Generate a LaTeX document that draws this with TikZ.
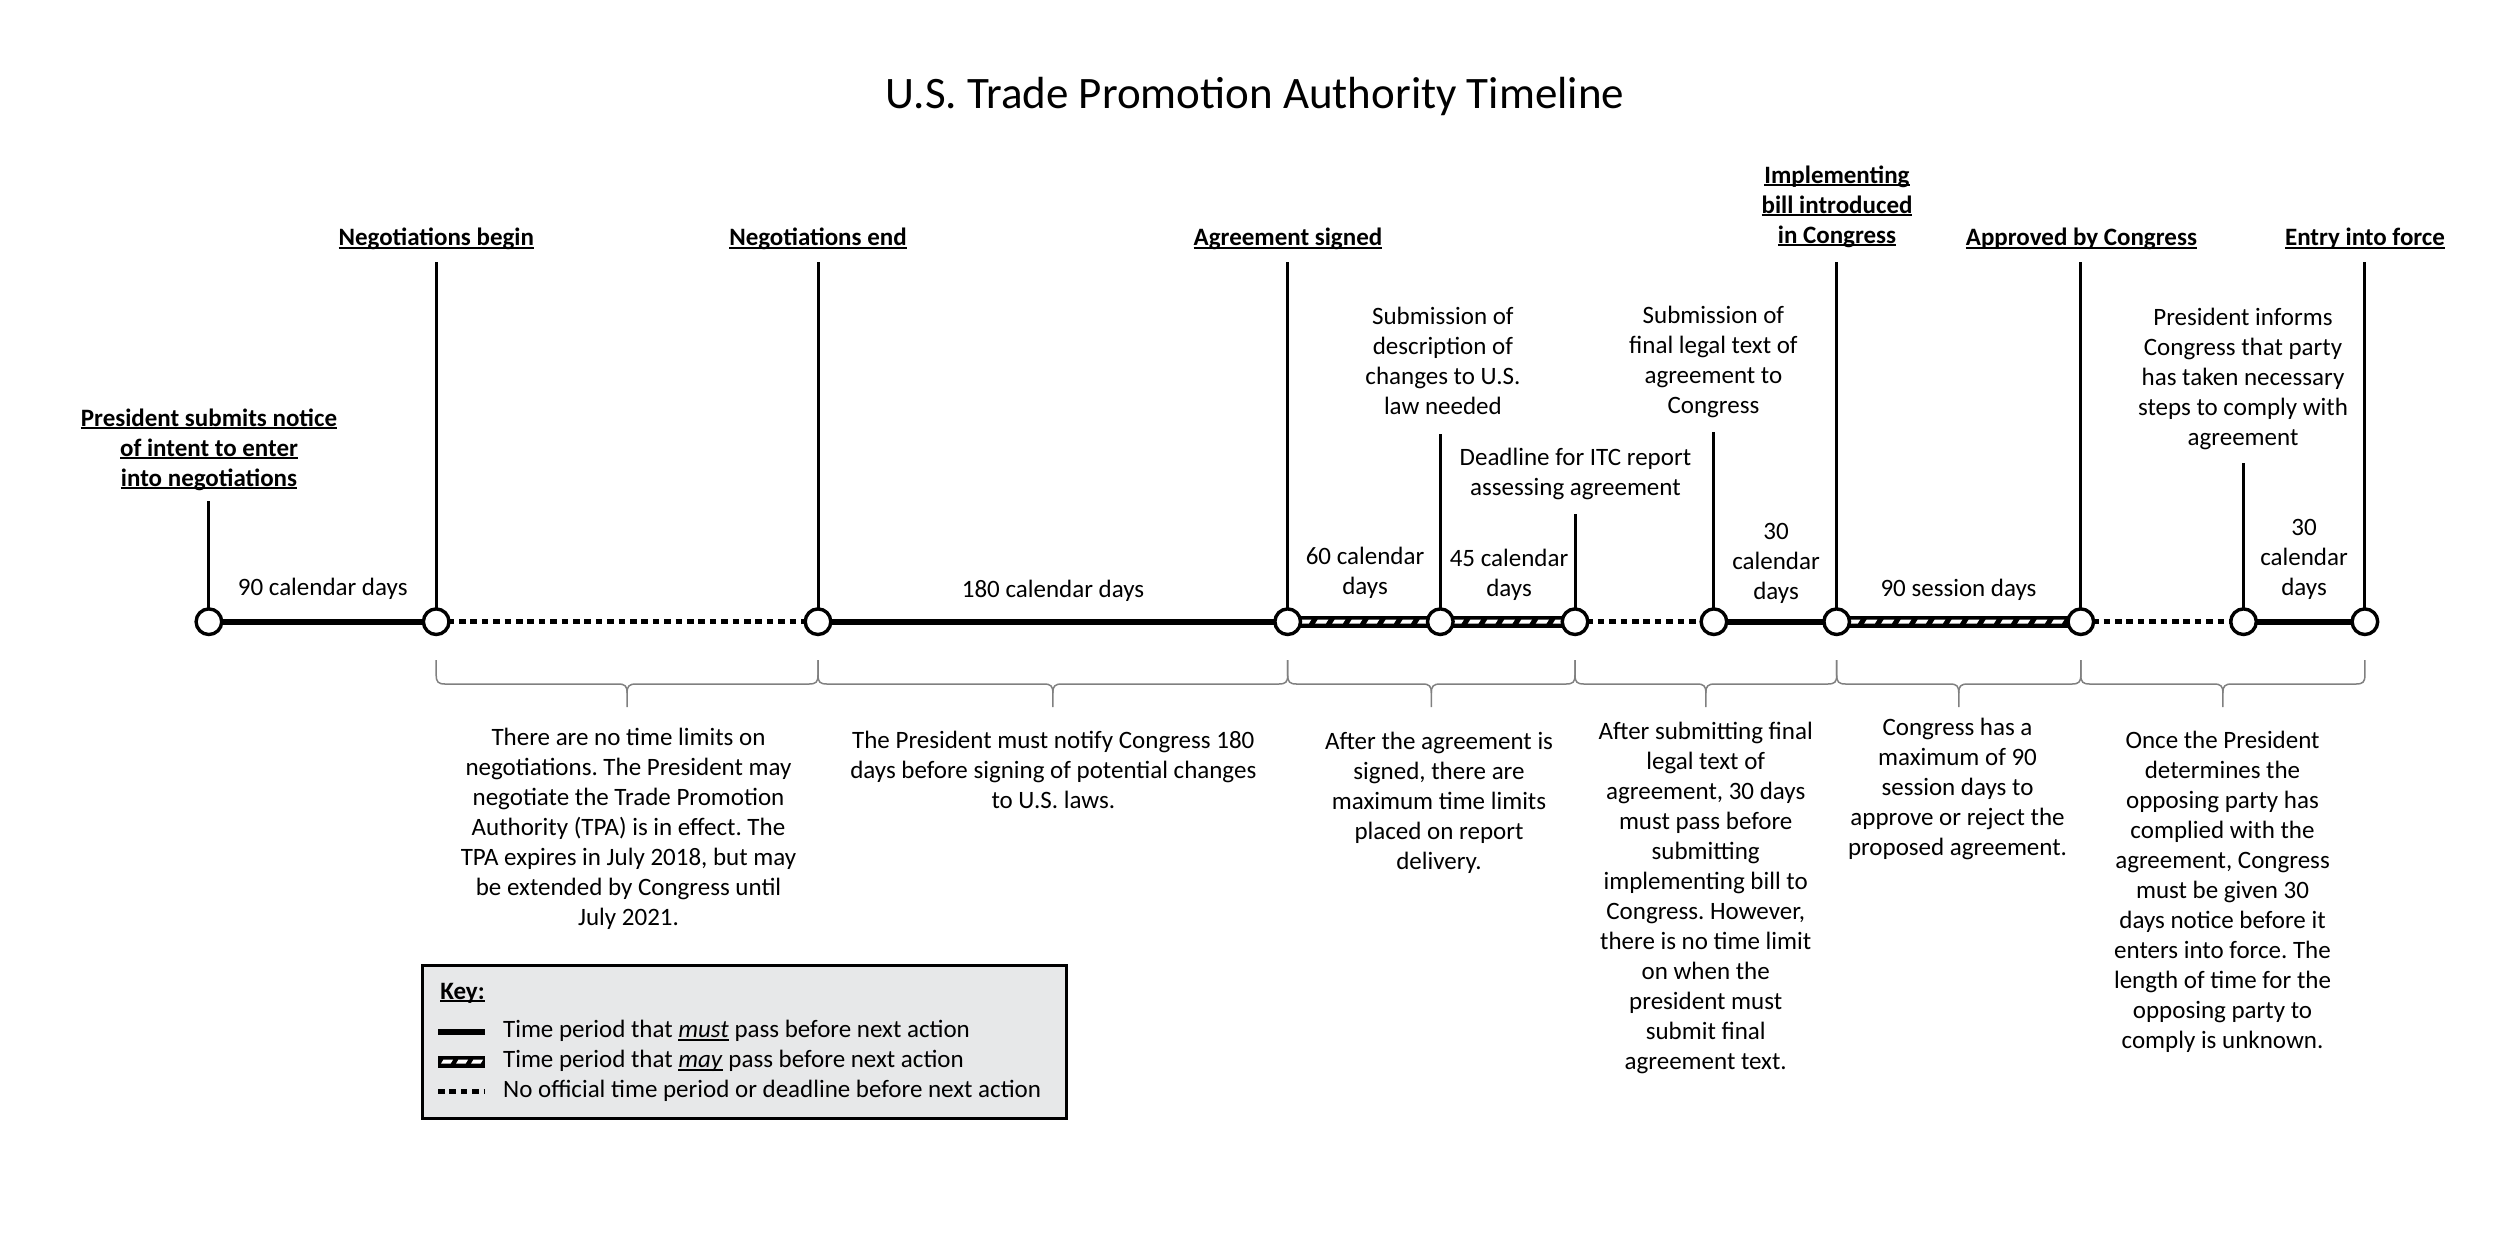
\documentclass[tikz,border=0pt]{standalone}
\usepackage{fontspec}
\setmainfont{Carlito}
\usetikzlibrary{decorations.markings}
\pgfdeclarelayer{bg}
\pgfsetlayers{bg,main}
\frenchspacing
\newcommand\blk[1]{\vtop{\let\\\cr\halign{\hfil##\hfil\cr#1\crcr}}}
\newcommand\ulin[1]{\setbox0\hbox{#1}\rlap{\rule[-1.5pt]{\wd0}{0.8pt}}\box0\relax}
\definecolor{keygray}{HTML}{E7E8E9}
\definecolor{bracegray}{HTML}{808080}
\begin{document}
\begin{tikzpicture}[x=0.5pt,y=-0.5pt,
  evt/.style={circle, draw=black, line width=1.7pt, fill=white, minimum size=12.8pt, inner sep=0pt, outer sep=0pt},
  stem/.style={line width=1.5pt, black},
  must/.style={line width=3pt, black},
  dotl/.style={line width=2.6pt, black, dash pattern=on 3.3pt off 2.4pt},
  maybar/.style={line width=6pt, black},
  maywhite/.style={decoration={markings, mark=between positions 0 and 1 step 8.5pt with {\fill[white] (-3.3pt,-1pt) -- (2.0pt,-1pt) -- (3.3pt,1pt) -- (-2.0pt,1pt) -- cycle;}}, decorate},
  txt/.style={font=\fontsize{12.5}{15}\selectfont, inner sep=0pt, anchor=base},
  btxt/.style={font=\fontsize{12.5}{15}\selectfont\bfseries, inner sep=0pt, anchor=base},
  brc/.style={draw=bracegray, line width=0.75pt},
  keybox/.style={draw=black, fill=keygray, line width=1.5pt, inner sep=0pt}
]
\useasboundingbox (0,0) rectangle (2500,1250);

% title
\node[font=\fontsize{22.5}{27}\selectfont, inner sep=0pt, anchor=base] (title) at (1255,108) {U.S. Trade Promotion Authority Timeline};

% events
\node[evt] (c1) at (208.9,621.7) {};
\node[evt] (c2) at (436.2,621.7) {};
\node[evt] (c3) at (818,621.7) {};
\node[evt] (c4) at (1287.7,621.7) {};
\node[evt] (c5) at (1440.3,621.7) {};
\node[evt] (c6) at (1575,621.7) {};
\node[evt] (c7) at (1713.9,621.7) {};
\node[evt] (c8) at (1836.7,621.7) {};
\node[evt] (c9) at (2080.8,621.7) {};
\node[evt] (c10) at (2243.5,621.7) {};
\node[evt] (c11) at (2364.9,621.7) {};

% stem tops
\coordinate (s1) at (208.9,501);
\coordinate (s2) at (436.2,261.7);
\coordinate (s3) at (818,261.7);
\coordinate (s4) at (1287.7,261.7);
\coordinate (s5) at (1440.3,434);
\coordinate (s6) at (1575,514);
\coordinate (s7) at (1713.9,431.7);
\coordinate (s8) at (1836.7,261.7);
\coordinate (s9) at (2080.8,261.7);
\coordinate (s10) at (2243.5,463.3);
\coordinate (s11) at (2364.9,261.7);
\foreach \i in {1,...,11} { \draw[stem] (c\i) -- (s\i); }

% segments
\begin{pgfonlayer}{bg}
\draw[must] (c1.center) -- (c2.center);
\draw[dotl] (c2.center) -- (c3.center);
\draw[must] (c3.center) -- (c4.center);
\draw[maybar] (c4.center) -- (c5.center);
\path[maywhite] (c4.center) -- (c5.center);
\draw[maybar] (c5.center) -- (c6.center);
\path[maywhite] (c5.center) -- (c6.center);
\draw[dotl] (c6.center) -- (c7.center);
\draw[must] (c7.center) -- (c8.center);
\draw[maybar] (c8.center) -- (c9.center);
\path[maywhite] (c8.center) -- (c9.center);
\draw[dotl] (c9.center) -- (c10.center);
\draw[must] (c10.center) -- (c11.center);
\end{pgfonlayer}

% event labels
\node[btxt] (e1) at (209,426) {\blk{\ulin{President submits notice}\\\ulin{of intent to enter}\\\ulin{into negotiations}}};
\node[btxt] (e2) at (436.3,245.5) {\ulin{Negotiations begin}};
\node[btxt] (e3) at (818,245.5) {\ulin{Negotiations end}};
\node[btxt] (e4) at (1288,245.5) {\ulin{Agreement signed}};
\node[txt] (e5) at (1442.9,324.5) {\blk{Submission of\\description of\\changes to U.S.\\law needed}};
\node[txt] (e6) at (1575.4,465.5) {\blk{Deadline for ITC report\\assessing agreement}};
\node[txt] (e7) at (1713.4,323) {\blk{Submission of\\final legal text of\\agreement to\\Congress}};
\node[btxt] (e8) at (1837,183) {\blk{\ulin{Implementing}\\\ulin{bill introduced}\\\ulin{in Congress}}};
\node[btxt] (e9) at (2081.4,245.5) {\ulin{Approved by Congress}};
\node[txt] (e10) at (2243,325) {\blk{President informs\\Congress that party\\has taken necessary\\steps to comply with\\agreement}};
\node[btxt] (e11) at (2365,245.5) {\ulin{Entry into force}};

% period labels
\node[txt] (p1) at (322.7,595.5) {90 calendar days};
\node[txt] (p3) at (1053,597) {180 calendar days};
\node[txt] (p4) at (1365,564.5) {\blk{60 calendar\\days}};
\node[txt] (p5) at (1509,566) {\blk{45 calendar\\days}};
\node[txt] (p7) at (1776,539.5) {\blk{30\\calendar\\days}};
\node[txt] (p8) at (1958.5,596) {90 session days};
\node[txt] (p10) at (2304,535.5) {\blk{30\\calendar\\days}};

% braces
\foreach \xa/\xb in {436.2/818, 818/1287.7, 1287.7/1575, 1575/1836.7, 1836.7/2080.8, 2080.8/2364.9} {
  \pgfmathsetmacro\xm{(\xa+\xb)/2}
  \draw[brc] (\xa,660) -- (\xa,675) .. controls (\xa,682) and (\xa+2,684) .. (\xa+9,684) -- (\xm-9,684) .. controls (\xm-2,684) and (\xm,686) .. (\xm,693) -- (\xm,707);
  \draw[brc] (\xb,660) -- (\xb,675) .. controls (\xb,682) and (\xb-2,684) .. (\xb-9,684) -- (\xm+9,684) .. controls (\xm+2,684) and (\xm,686) .. (\xm,693);
}

% descriptions
\node[txt] (d1) at (628.5,745.5) {\blk{There are no time limits on\\negotiations. The President may\\negotiate the Trade Promotion\\Authority (TPA) is in effect. The\\TPA expires in July 2018, but may\\be extended by Congress until\\July 2021.}};
\node[txt] (d2) at (1053.3,748) {\blk{The President must notify Congress 180\\days before signing of potential changes\\to U.S. laws.}};
\node[txt] (d3) at (1439,749.5) {\blk{After the agreement is\\signed, there are\\maximum time limits\\placed on report\\delivery.}};
\node[txt] (d4) at (1705.7,739.5) {\blk{After submitting final\\legal text of\\agreement, 30 days\\must pass before\\submitting\\implementing bill to\\Congress. However,\\there is no time limit\\on when the\\president must\\submit final\\agreement text.}};
\node[txt] (d5) at (1957.5,735.5) {\blk{Congress has a\\maximum of 90\\session days to\\approve or reject the\\proposed agreement.}};
\node[txt] (d6) at (2222.5,748) {\blk{Once the President\\determines the\\opposing party has\\complied with the\\agreement, Congress\\must be given 30\\days notice before it\\enters into force. The\\length of time for the\\opposing party to\\comply is unknown.}};

% key
\node[keybox, minimum width=322.1pt, minimum height=76.65pt, anchor=north west] (key) at (421,964) {};
\node[btxt, anchor=base west] (keyt) at (440,999) {\ulin{Key:}};
\coordinate (k1a) at (438,1031.7); \coordinate (k1b) at (485,1031.7);
\coordinate (k2a) at (438,1061.7); \coordinate (k2b) at (485,1061.7);
\coordinate (k3a) at (438,1091.7); \coordinate (k3b) at (485,1091.7);
\draw[must] (k1a) -- (k1b);
\draw[maybar] (k2a) -- (k2b);
\path[decoration={markings, mark=between positions 4.5pt and 20pt step 7.5pt with {\fill[white] (-3.0pt,-1pt) -- (1.8pt,-1pt) -- (3.0pt,1pt) -- (-1.8pt,1pt) -- cycle;}}, decorate] (k2a) -- (k2b);
\draw[dotl] (k3a) -- (k3b);
\node[txt, anchor=base west] (k1t) at (502.7,1037.7) {Time period that \ulin{\textit{must}} pass before next action};
\node[txt, anchor=base west] (k2t) at (502.7,1067.7) {Time period that \ulin{\textit{may}} pass before next action};
\node[txt, anchor=base west] (k3t) at (502.7,1097.7) {No official time period or deadline before next action};
\end{tikzpicture}
\end{document}
